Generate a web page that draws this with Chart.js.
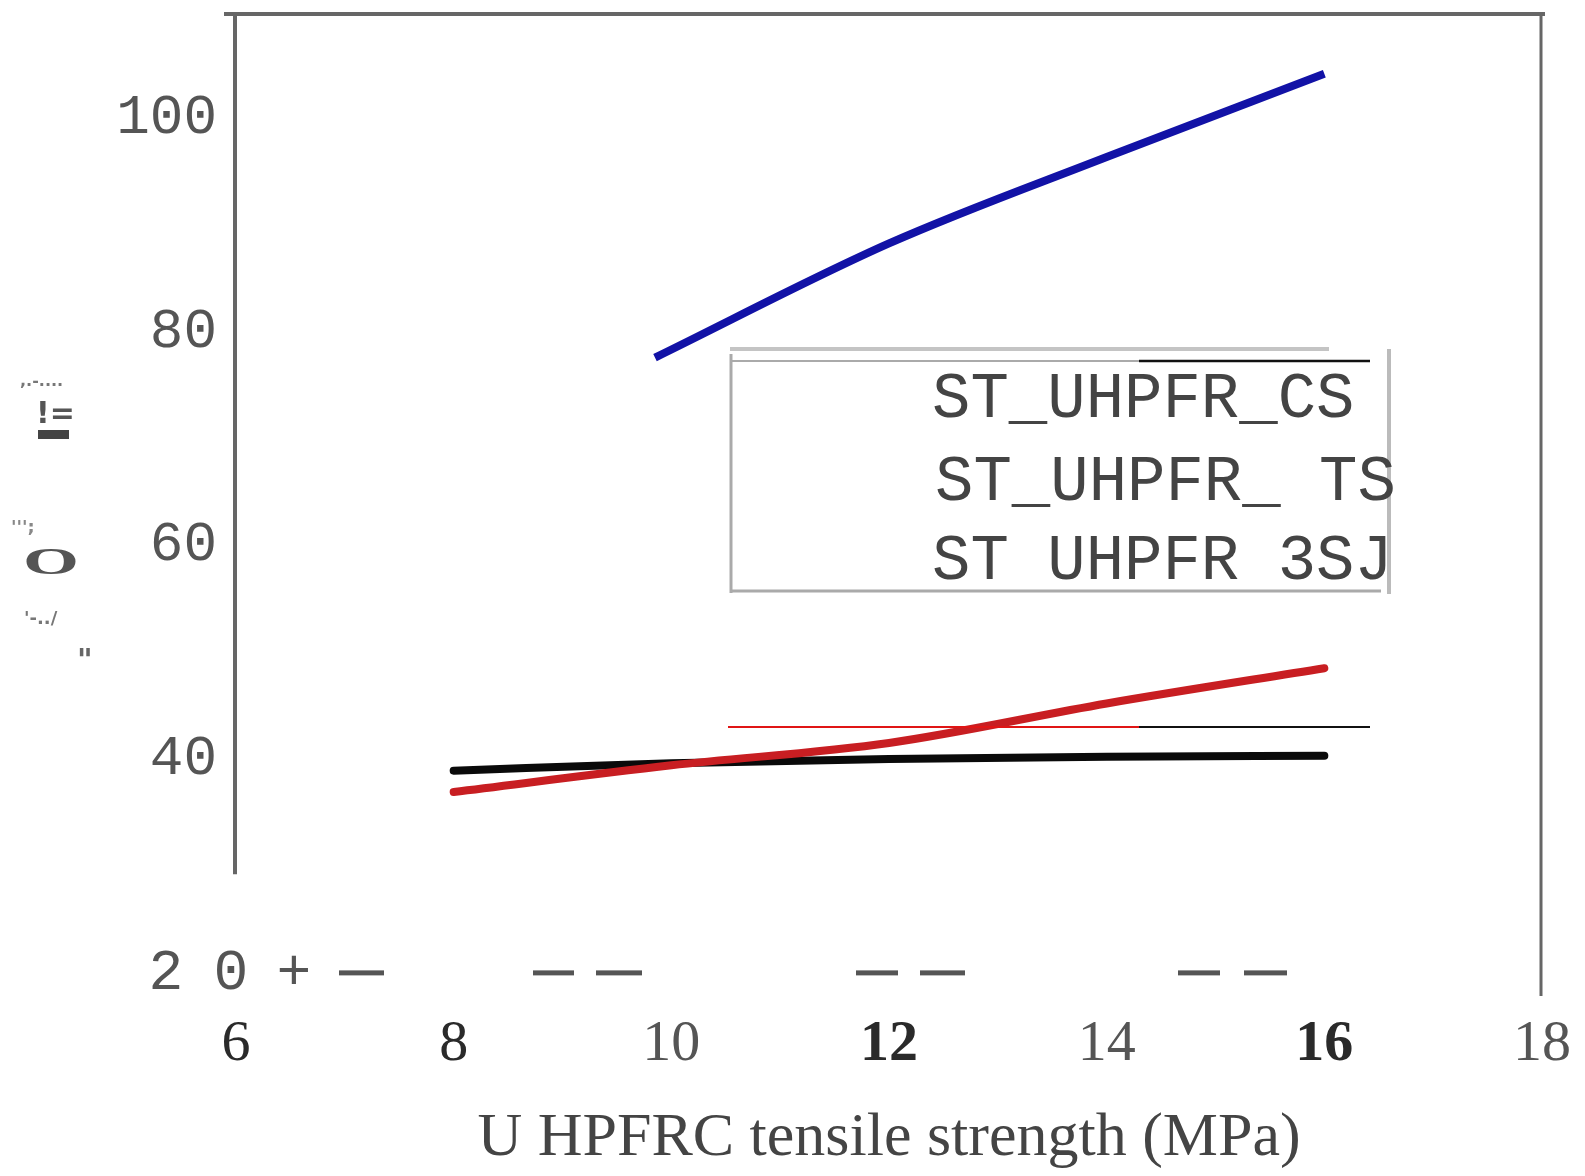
<!DOCTYPE html>
<html>
<head>
<meta charset="utf-8">
<script src="https://cdn.jsdelivr.net/npm/chart.js@4/dist/chart.umd.min.js"></script>
<style>
  html, body { margin: 0; padding: 0; background: #fff; }
  canvas { display: block; }
</style>
</head>
<body>
<canvas id="c" width="1585" height="1176"></canvas>
<script>
// ---- data ----
const xTicks = [6, 8, 10, 12, 14, 16, 18];
const yTicks = [20, 40, 60, 80, 100];
const seriesLabels = ['ST_UHPFR_CS', 'ST_UHPFR_ TS', 'ST UHPFR 3SJ'];
const csX = [9.85, 12, 14, 16];
const csY = [77.6, 88.3, 96.4, 104.2];
const tsX = [8, 10, 12, 14, 16];
const tsY = [36.9, 39.4, 41.5, 45.2, 48.5];
const sjX = [8, 10, 12, 14, 16];
const sjY = [38.9, 39.6, 40.0, 40.2, 40.3];
const xTitle = 'U HPFRC tensile strength (MPa)';
const yLabelFragments = [',.-....', '!=', "''';", 'O', "'-../", '"'];

const pts = (xs, ys) => xs.map((v, i) => ({ x: v, y: ys[i] }));

const decor = {
  id: 'decor',
  afterDraw(chart) {
    const ctx = chart.ctx, xs = chart.scales.x, ys = chart.scales.y, a = chart.chartArea;
    ctx.save();
    // frame
    ctx.strokeStyle = '#666';
    ctx.lineCap = 'butt';
    ctx.lineWidth = 4;
    ctx.beginPath(); ctx.moveTo(a.left - 12, a.top); ctx.lineTo(a.right + 3, a.top); ctx.stroke();
    ctx.beginPath(); ctx.moveTo(a.left - 1, a.top); ctx.lineTo(a.left - 1, ys.getPixelForValue(29.2)); ctx.stroke();
    ctx.lineWidth = 3;
    ctx.beginPath(); ctx.moveTo(a.right - 1, a.top); ctx.lineTo(a.right - 1, a.bottom - 2); ctx.stroke();

    // bottom "20+—" row with dashes
    const y20 = ys.getPixelForValue(yTicks[0]);
    ctx.fillStyle = '#555';
    ctx.font = '58px "Liberation Mono"';
    ctx.textAlign = 'center';
    ctx.textBaseline = 'middle';
    ctx.fillText('2', 166, y20 + 1);
    ctx.fillText('0', 231, y20 + 1);
    ctx.fillText('+', 294, y20 + 1);
    const dashes = [[339, 384], [533, 574], [596, 642], [856, 898], [920, 965], [1178, 1220], [1244, 1287]];
    dashes.forEach(d => ctx.fillRect(d[0], y20 - 2, d[1] - d[0], 5));

    // y-axis label fragments (garbled in the reference)
    ctx.fillStyle = '#777';
    ctx.textAlign = 'left';
    ctx.textBaseline = 'alphabetic';
    ctx.font = 'bold 16px "DejaVu Sans"';
    ctx.fillText(yLabelFragments[0], 20, 386);
    ctx.fillStyle = '#555';
    ctx.font = 'bold 30px "DejaVu Sans"';
    ctx.fillText(yLabelFragments[1], 36, 423);
    ctx.fillStyle = '#444';
    ctx.fillRect(38, 430, 31, 9);
    ctx.fillStyle = '#888';
    ctx.font = 'bold 18px "DejaVu Sans"';
    ctx.fillText(yLabelFragments[2], 11, 533);
    ctx.fillStyle = '#555';
    ctx.save();
    ctx.translate(51, 574);
    ctx.scale(1.5, 0.78);
    ctx.font = 'bold 48px "Liberation Serif"';
    ctx.textAlign = 'center';
    ctx.fillText(yLabelFragments[3], 0, 0);
    ctx.restore();
    ctx.fillStyle = '#777';
    ctx.font = 'bold 18px "DejaVu Sans"';
    ctx.fillText(yLabelFragments[4], 24, 624);
    ctx.fillStyle = '#666';
    ctx.font = 'bold 30px "DejaVu Sans"';
    ctx.fillText(yLabelFragments[5], 77, 670);

    // legend (as it appears in the reference)
    ctx.lineWidth = 4; ctx.strokeStyle = '#c4c4c4';
    ctx.beginPath(); ctx.moveTo(730, 349); ctx.lineTo(1329, 349); ctx.stroke();
    ctx.lineWidth = 2; ctx.strokeStyle = '#aaa';
    ctx.beginPath(); ctx.moveTo(730, 361); ctx.lineTo(1139, 361); ctx.stroke();
    ctx.lineWidth = 2.5; ctx.strokeStyle = '#111';
    ctx.beginPath(); ctx.moveTo(1139, 361); ctx.lineTo(1370, 361); ctx.stroke();
    ctx.lineWidth = 3; ctx.strokeStyle = '#aaa';
    ctx.beginPath(); ctx.moveTo(731, 354); ctx.lineTo(731, 593); ctx.stroke();
    ctx.beginPath(); ctx.moveTo(730, 591); ctx.lineTo(1381, 591); ctx.stroke();
    ctx.lineWidth = 4; ctx.strokeStyle = '#bbb';
    ctx.beginPath(); ctx.moveTo(1389, 349); ctx.lineTo(1389, 594); ctx.stroke();
    ctx.lineWidth = 2; ctx.strokeStyle = '#e01515';
    ctx.beginPath(); ctx.moveTo(728, 727); ctx.lineTo(1139, 727); ctx.stroke();
    ctx.strokeStyle = '#111';
    ctx.beginPath(); ctx.moveTo(1139, 727); ctx.lineTo(1370, 727); ctx.stroke();

    ctx.fillStyle = '#444';
    ctx.font = '64px "Liberation Mono"';
    ctx.textAlign = 'left';
    ctx.textBaseline = 'alphabetic';
    const labs = chart.data.datasets.map(d => d.label);
    ctx.fillText(labs[0], 932, 417);
    ctx.fillText(labs[1], 935, 500);
    ctx.fillText(labs[2], 932, 579);
    ctx.restore();
  }
};

const boldTicks = [12, 16];
const thinTicks = [10, 14, 18];

new Chart(document.getElementById('c'), {
  type: 'line',
  data: {
    datasets: [
      { label: seriesLabels[0], data: pts(csX, csY), borderColor: '#1212a6', borderWidth: 8,
        pointRadius: 0, tension: 0.15, cubicInterpolationMode: 'monotone', borderCapStyle: 'butt' },
      { label: seriesLabels[1], data: pts(tsX, tsY), borderColor: '#c81e22', borderWidth: 8,
        pointRadius: 0, tension: 0.15, cubicInterpolationMode: 'monotone', borderCapStyle: 'round' },
      { label: seriesLabels[2], data: pts(sjX, sjY), borderColor: '#0a0a0a', borderWidth: 8,
        pointRadius: 0, tension: 0.15, cubicInterpolationMode: 'monotone', borderCapStyle: 'round' }
    ]
  },
  options: {
    responsive: false,
    animation: false,
    events: [],
    layout: { padding: { top: 14, right: 43, left: 0, bottom: 0 } },
    plugins: { legend: { display: false }, tooltip: { enabled: false } },
    scales: {
      x: {
        type: 'linear', min: xTicks[0], max: xTicks[xTicks.length - 1],
        afterBuildTicks: s => { s.ticks = xTicks.map(v => ({ value: v })); },
        afterFit: s => { s.height = 178; s.paddingLeft = 0; s.paddingRight = 0; },
        grid: { display: false, drawTicks: false },
        border: { display: false },
        ticks: {
          padding: 12,
          color: c => thinTicks.includes(c.tick && c.tick.value) ? '#555' : '#2a2a2a',
          font: c => ({ family: '"Liberation Serif"', size: 58,
                        weight: boldTicks.includes(c.tick && c.tick.value) ? 'bold' : 'normal' }),
          callback: v => String(v)
        },
        title: { display: true, text: xTitle, color: '#444',
                 font: { family: '"Liberation Serif"', size: 62 }, padding: { top: 0, bottom: 0 } }
      },
      y: {
        type: 'linear', min: 17.6, max: 109.8,
        afterBuildTicks: s => { s.ticks = yTicks.map(v => ({ value: v })); },
        afterFit: s => { s.width = 236; s.paddingTop = 0; s.paddingBottom = 0; },
        grid: { display: false, drawTicks: false },
        border: { display: false },
        ticks: {
          padding: 19,
          color: '#555',
          font: { family: '"Liberation Mono"', size: 56 },
          callback: v => v === yTicks[0] ? '' : String(v)
        }
      }
    }
  },
  plugins: [decor]
});
</script>
</body>
</html>
